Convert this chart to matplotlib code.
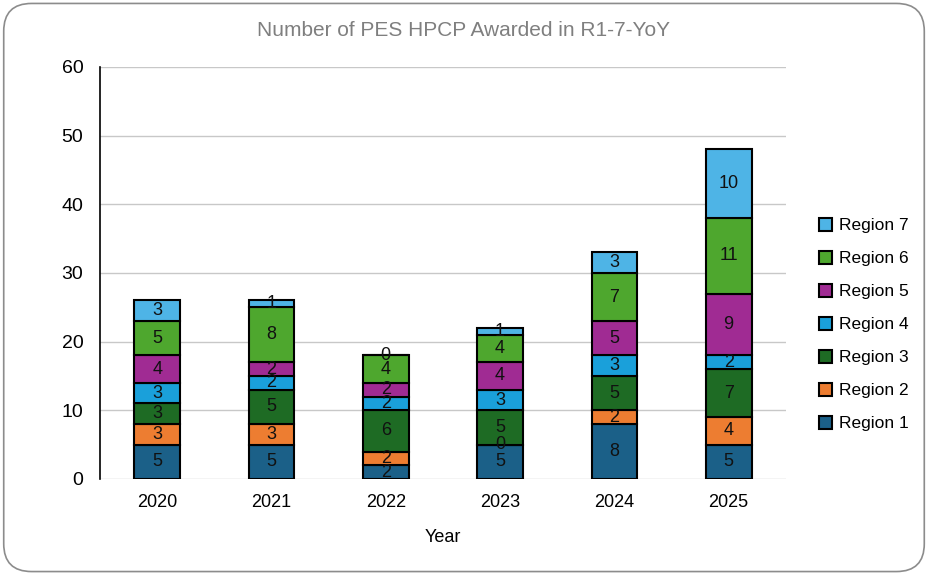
import matplotlib.pyplot as plt
from matplotlib.patches import FancyBboxPatch
import numpy as np

plt.rcParams['font.family'] = ['Liberation Sans', 'DejaVu Sans']

# Datos
years = ['2020', '2021', '2022', '2023', '2024', '2025']
region_names = ['Region 1', 'Region 2', 'Region 3', 'Region 4', 'Region 5', 'Region 6', 'Region 7']
region_1 = [5, 5, 2, 5, 8, 5]
region_2 = [3, 3, 2, 0, 2, 4]
region_3 = [3, 5, 6, 5, 5, 7]
region_4 = [3, 2, 2, 3, 3, 2]
region_5 = [4, 2, 2, 4, 5, 9]
region_6 = [5, 8, 4, 4, 7, 11]
region_7 = [3, 1, 0, 1, 3, 10]
series = [region_1, region_2, region_3, region_4, region_5, region_6, region_7]
colors = ['#1B6088', '#ED7D31', '#1E6B24', '#1AA0DA', '#A02B93', '#4EA72E', '#4EB4E6']

fig = plt.figure(figsize=(9.28, 5.75), dpi=100)
ax = fig.add_axes([0.1078, 0.167, 0.739, 0.7165])

# borde redondeado del gráfico
border = FancyBboxPatch((0.004, 0.006), 0.992, 0.988, boxstyle='round,pad=0,rounding_size=0.03',
                        transform=fig.transFigure, facecolor='none', edgecolor='#8c8c8c',
                        linewidth=1.2, mutation_aspect=928 / 575)
fig.patches.append(border)

x = np.arange(len(years))
bottom = np.zeros(len(years))
handles = []
for name, vals, c in zip(region_names, series, colors):
    bars = ax.bar(x, vals, 0.4, bottom=bottom, color=c, edgecolor='black', linewidth=1.5,
                  label=name, zorder=3)
    for xi, b, v in zip(x, bottom, vals):
        ax.text(xi, b + v / 2, str(v), ha='center', va='center', fontsize=13, color='#111111', zorder=4)
    bottom += np.array(vals)
    handles.append(bars)

ax.set_xlim(-0.5, 5.5)
ax.set_ylim(0, 60)
ax.set_yticks(range(0, 61, 10))
ax.set_xticks(x)
ax.set_xticklabels(years, fontsize=13)
ax.tick_params(axis='y', labelsize=14, length=0, pad=12)
ax.tick_params(axis='x', length=0, pad=11)
ax.grid(axis='y', color='#c8c8c8', linewidth=1, zorder=0)
for s in ['top', 'right', 'bottom']:
    ax.spines[s].set_visible(False)
ax.spines['left'].set_color('black')
ax.spines['left'].set_linewidth(1.2)

ax.set_xlabel('Year', fontsize=13, labelpad=13)
fig.text(0.5, 0.947, 'Number of PES HPCP Awarded in R1-7-YoY', ha='center', va='center',
         fontsize=15, color='#7f7f7f')

leg = ax.legend(handles[::-1], region_names[::-1], loc='center left', bbox_to_anchor=(1.025, 0.375),
                frameon=False, fontsize=12.5, handlelength=0.8, handleheight=0.8,
                labelspacing=1.0, handletextpad=0.4)

plt.savefig('out.png', dpi=100)
